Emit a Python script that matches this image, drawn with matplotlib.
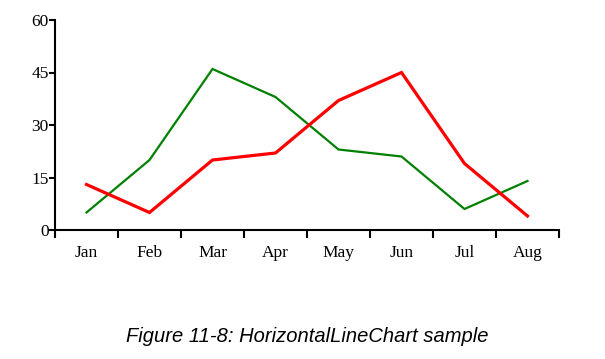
import numpy as np
import matplotlib.pyplot as plt

months = ['Jan', 'Feb', 'Mar', 'Apr', 'May', 'Jun', 'Jul', 'Aug']
green_vals = [5, 20, 46, 38, 23, 21, 6, 14]
red_vals = [13, 5, 20, 22, 37, 45, 19, 4]
y_ticks = [0, 15, 30, 45, 60]

plt.rcParams['font.family'] = ['Liberation Serif', 'DejaVu Serif']

fig = plt.figure(figsize=(6.05, 3.59), dpi=100)
ax = fig.add_axes([55/605, 129/359, 504/605, 210/359])

x = np.arange(len(months))
ax.plot(x, green_vals, color='#008000', lw=1.6, solid_joinstyle='miter')
ax.plot(x, red_vals, color='#ff0000', lw=2.3, solid_joinstyle='miter')

ax.set_xlim(-0.5, len(months) - 0.5)
ax.set_ylim(0, 60)

ax.set_xticks(x)
ax.set_xticklabels(months, fontsize=12.5)
ax.tick_params(axis='x', which='major', length=0, pad=10.5)
ax.set_xticks(np.arange(-0.5, len(months)), minor=True)
ax.tick_params(axis='x', which='minor', length=6, width=1.5, direction='out')

ax.set_yticks(y_ticks)
ax.set_yticklabels([str(v) for v in y_ticks], fontsize=12.5)
ax.tick_params(axis='y', length=4.5, width=1.5, pad=0)

for s in ['top', 'right']:
    ax.spines[s].set_visible(False)
ax.spines['left'].set_linewidth(1.5)
ax.spines['bottom'].set_linewidth(1.5)

fig.text(307/605, 1 - 337/359, 'Figure 11-8: HorizontalLineChart sample',
         ha='center', va='center', fontsize=14.5, style='italic',
         family=['Liberation Sans', 'DejaVu Sans'])

fig.savefig('out.png', dpi=100)
